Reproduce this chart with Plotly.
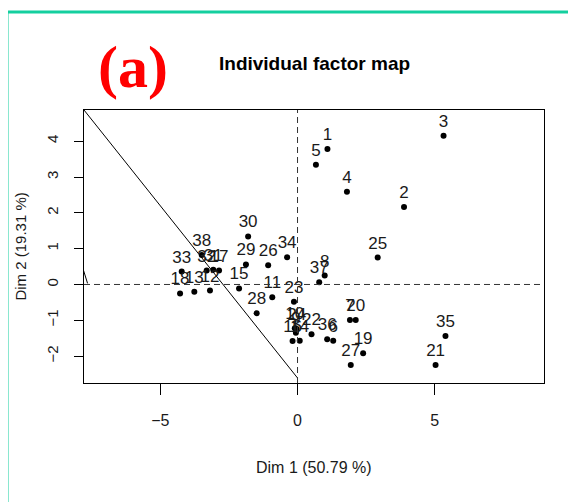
import plotly.graph_objects as go

# Individual coordinates
labels = ["1", "2", "3", "4", "5", "6", "7", "8", "9", "10",
          "11", "12", "13", "14", "15", "16", "17", "18", "19", "20",
          "21", "22", "23", "24", "25", "26", "27", "28", "29", "30",
          "31", "32", "33", "34", "35", "36", "37", "38"]
dim1 = [1.09, 3.88, 5.32, 1.80, 0.67, 1.30, 1.91, 0.99, -0.06, -0.10,
        -0.92, -3.19, -3.76, 0.08, -2.13, -0.18, -2.86, -4.28, 2.39, 2.12,
        5.03, 0.51, -0.13, -0.03, 2.92, -1.07, 1.94, -1.49, -1.88, -1.80,
        -3.07, -3.31, -4.22, -0.38, 5.39, 1.08, 0.79, -3.49]
dim2 = [3.78, 2.16, 4.15, 2.59, 3.34, -1.57, -0.99, 0.25, -1.35, -1.22,
        -0.36, -0.17, -0.20, -1.57, -0.11, -1.58, 0.39, -0.25, -1.92, -0.99,
        -2.25, -1.39, -0.48, -1.24, 0.75, 0.54, -2.25, -0.80, 0.56, 1.34,
        0.41, 0.39, 0.36, 0.76, -1.44, -1.53, 0.06, 0.82]

# Reference line segments drawn on the map
diag_x = [-7.78, 0.0]
diag_y = [4.87, -2.61]
edge_x = [-7.80, -7.65]
edge_y = [0.40, 0.03]

x_ticks = [-5, 0, 5]
y_ticks = [-2, -1, 0, 1, 2, 3, 4]
x_range = [-7.78, 8.98]
y_range = [-2.75, 4.87]

FONT = "Liberation Sans Narrow, Liberation Sans, Arial, sans-serif"
TEAL = "#14cf9f"

fig = go.Figure()
fig.add_trace(go.Scatter(x=diag_x, y=diag_y, mode="lines",
                         line=dict(color="black", width=1), hoverinfo="skip"))
fig.add_trace(go.Scatter(x=edge_x, y=edge_y, mode="lines",
                         line=dict(color="black", width=1), hoverinfo="skip"))
fig.add_trace(go.Scatter(
    x=dim1, y=dim2, mode="markers+text", text=labels,
    textposition="top center",
    textfont=dict(family=FONT, size=17, color="#1a1a1a"),
    marker=dict(color="black", size=6),
))

fig.add_hline(y=0, line=dict(color="#333333", width=1, dash="6px,4px"))
fig.add_vline(x=0, line=dict(color="#333333", width=1, dash="6px,4px"))

# teal frame (open at right/bottom as cropped)
fig.add_shape(type="line", xref="paper", yref="paper",
              x0=-0.1674, x1=1.3, y0=1.359, y1=1.359,
              line=dict(color=TEAL, width=3))
fig.add_shape(type="line", xref="paper", yref="paper",
              x0=-0.1674, x1=-0.1674, y0=1.359, y1=-0.6,
              line=dict(color=TEAL, width=3))

fig.add_annotation(text="<b>Individual factor map</b>", xref="paper", yref="paper",
                   x=0.5, y=1.172, xanchor="center", yanchor="middle", showarrow=False,
                   font=dict(family=FONT, size=19, color="black"))
fig.add_annotation(text="<b>(a)</b>", xref="paper", yref="paper",
                   x=0.1065, y=1.157, xanchor="center", yanchor="middle", showarrow=False,
                   font=dict(family="Liberation Serif, Times New Roman, serif", size=60, color="#ff0000"))
fig.add_annotation(text="Dim 1 (50.79 %)", xref="paper", yref="paper",
                   x=0.5, y=-0.311, xanchor="center", yanchor="middle", showarrow=False,
                   font=dict(family=FONT, size=16, color="#1a1a1a"))
fig.add_annotation(text="Dim 2 (19.31 %)", xref="paper", yref="paper",
                   x=-0.139, y=0.5, xanchor="center", yanchor="middle",
                   showarrow=False, textangle=-90,
                   font=dict(family="Liberation Sans, Arial, sans-serif", size=15, color="#1a1a1a"))

fig.update_xaxes(range=x_range, tickvals=x_ticks, ticks="outside", ticklen=11,
                 tickcolor="black", showline=True, linecolor="black", linewidth=1,
                 mirror=True, showgrid=False, zeroline=False,
                 tickfont=dict(family=FONT, size=16, color="#1a1a1a"),
                 ticklabelstandoff=12)
fig.update_yaxes(range=y_range, tickvals=y_ticks, ticks="outside", ticklen=9,
                 tickcolor="black", showline=True, linecolor="black", linewidth=1,
                 mirror=True, showgrid=False, zeroline=False, tickangle=-90,
                 tickfont=dict(family="Liberation Sans, Arial, sans-serif", size=15, color="#1a1a1a"),
                 ticklabelstandoff=10)

# page has an 8px body offset, so margins are reduced by 8px
fig.update_layout(width=576, height=502, showlegend=False,
                  margin=dict(l=76, r=40, t=102, b=127),
                  plot_bgcolor="white", paper_bgcolor="white")

fig.write_html("out.html")
